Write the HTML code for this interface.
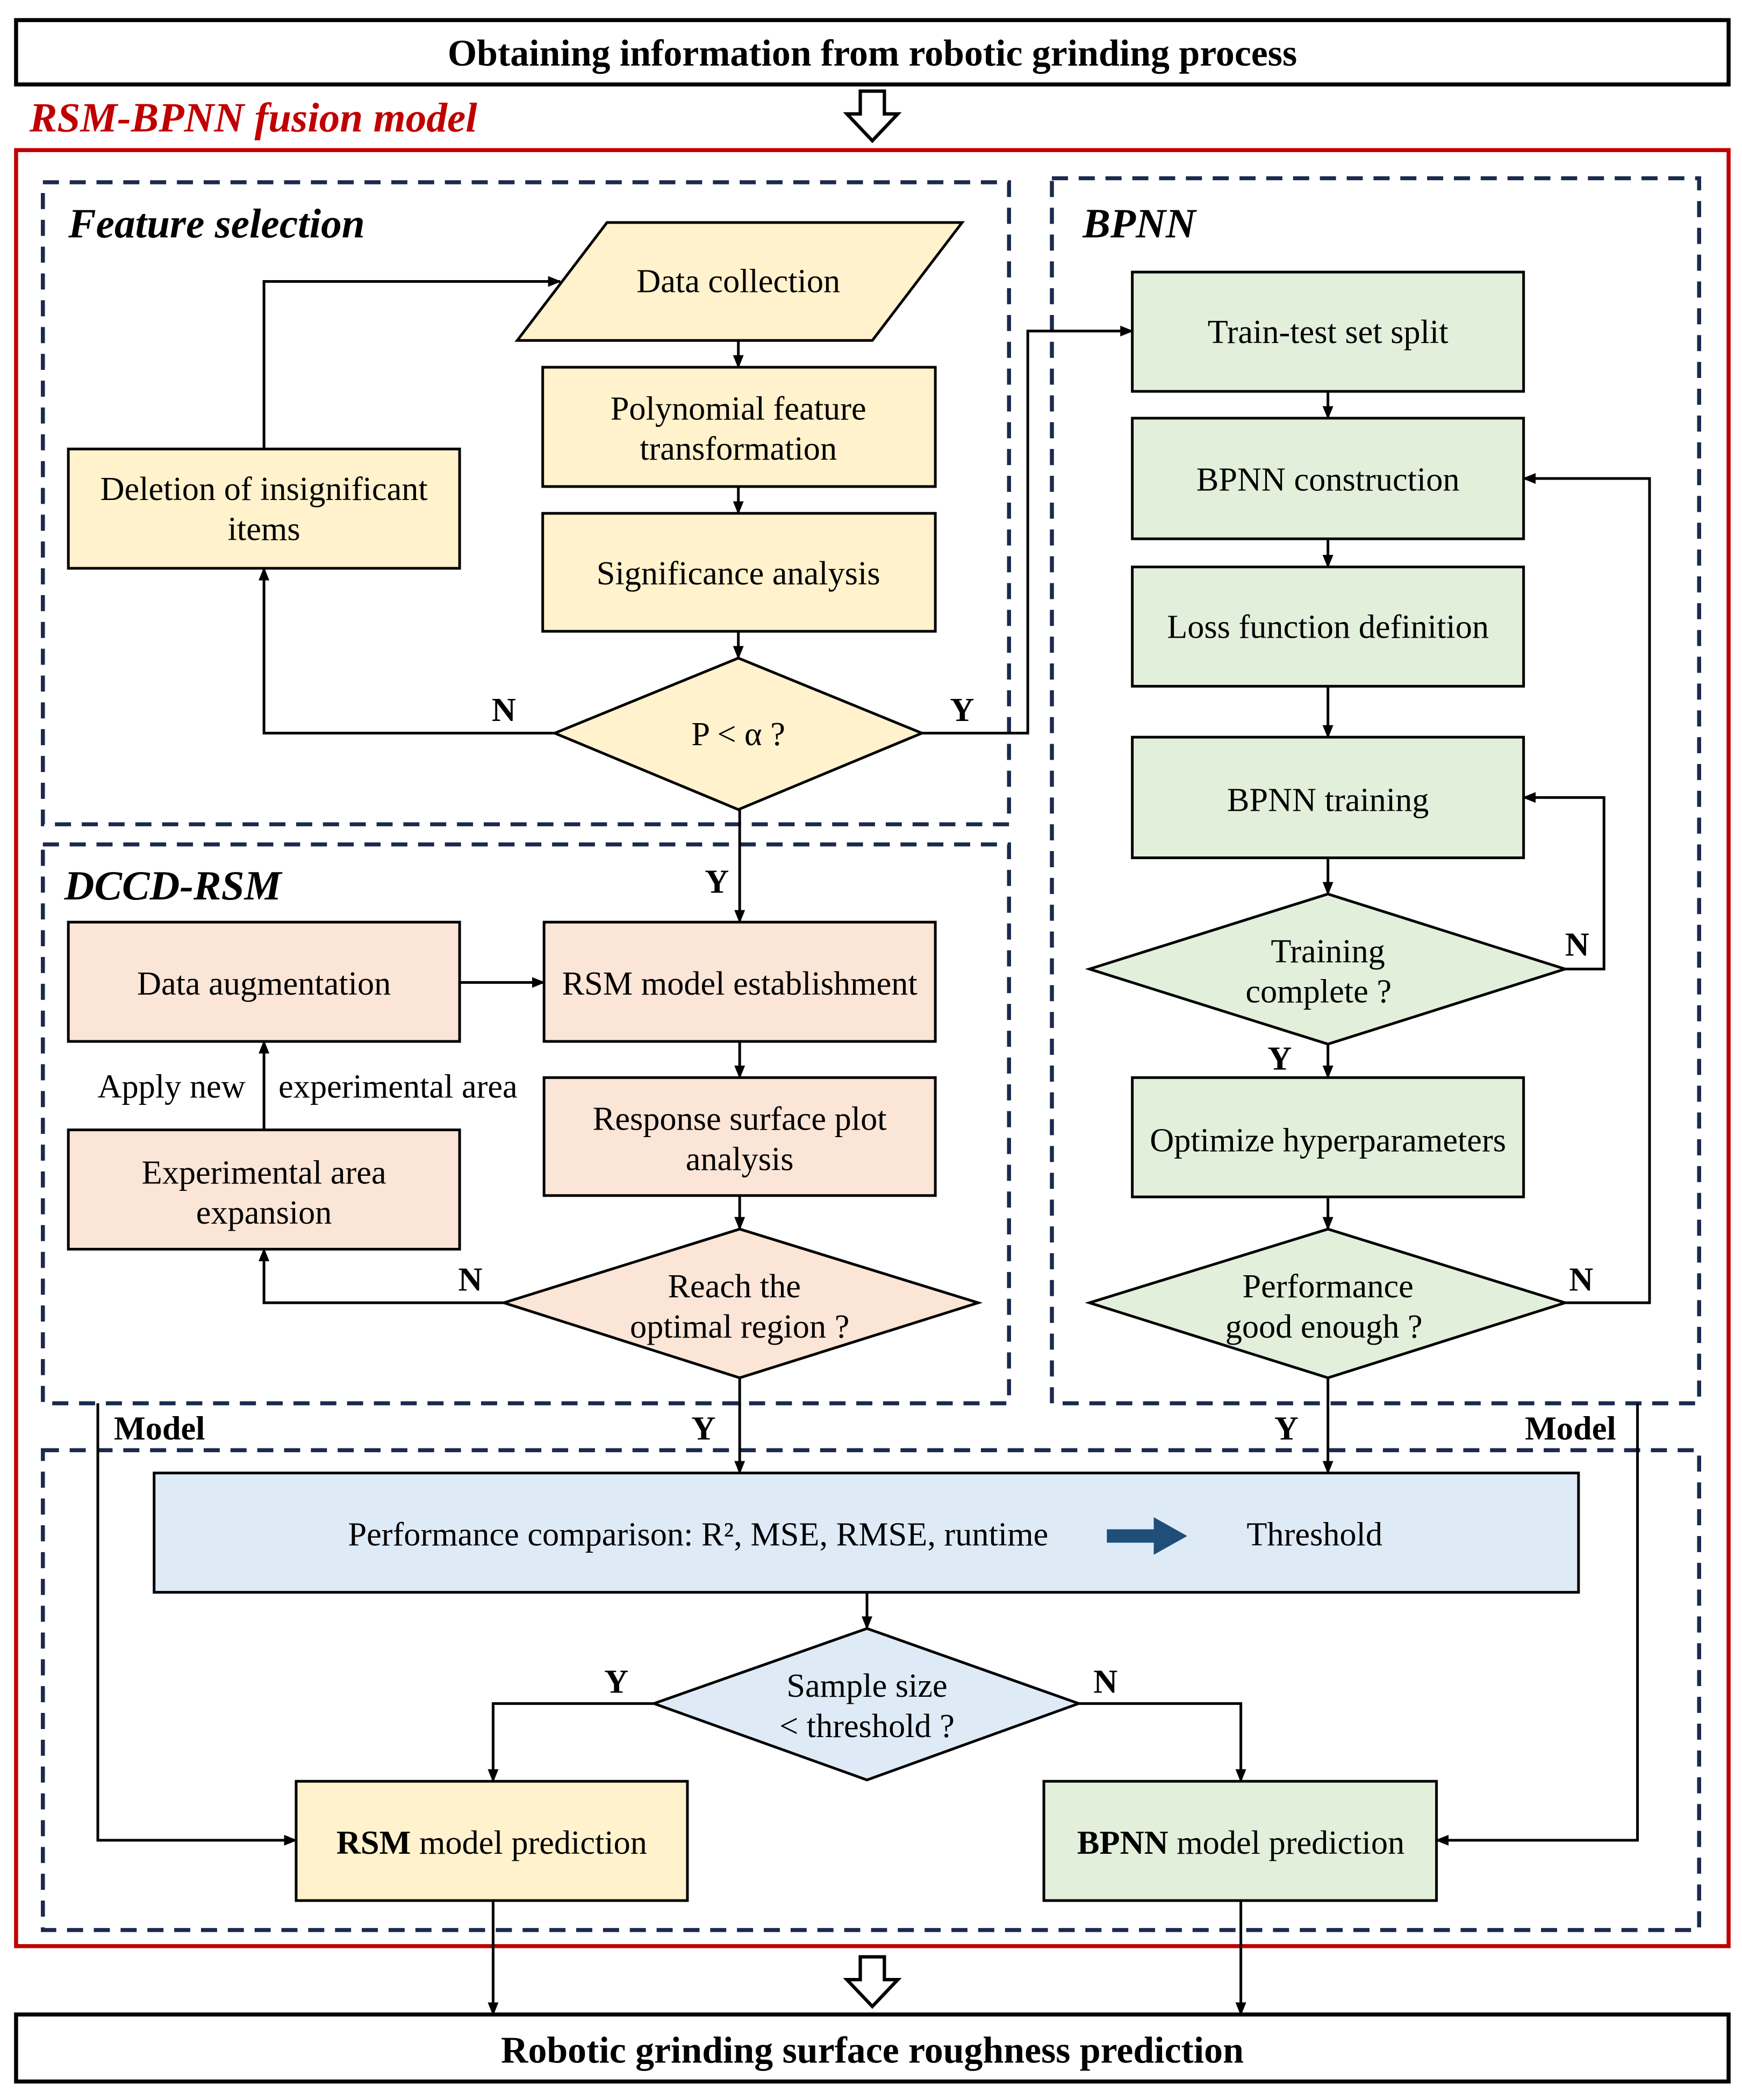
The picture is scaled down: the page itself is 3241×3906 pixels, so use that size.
<!DOCTYPE html>
<html><head><meta charset="utf-8"><style>html,body{margin:0;padding:0;background:#fff}svg{display:block}</style></head>
<body>
<svg xmlns="http://www.w3.org/2000/svg" width="3241" height="3906" viewBox="0 0 1300 1566.8" preserveAspectRatio="none" font-family="'Liberation Serif', serif">
<defs>
<marker id="a" markerWidth="10" markerHeight="10" refX="9" refY="5" orient="auto" markerUnits="userSpaceOnUse"><path d="M0,1 L10,5 L0,9 Z" fill="#000"/></marker>
</defs>
<g font-size="25" text-anchor="middle">
<rect x="12" y="15" width="1278" height="48" fill="#fff" stroke="#000" stroke-width="3"/>
<text x="651" y="49" font-weight="bold" font-size="28">Obtaining information from robotic grinding process</text>
<text x="22" y="98" text-anchor="start" font-size="31" font-weight="bold" font-style="italic" fill="#C00000">RSM-BPNN fusion model</text>
<path d="M642,68 h18 v17 h10 l-19,20 l-19,-20 h10 z" fill="#fff" stroke="#000" stroke-width="2.5"/>
<rect x="12" y="112" width="1278" height="1340" fill="none" stroke="#C00000" stroke-width="3"/>
<g fill="none" stroke="#1B2A4E" stroke-width="3" stroke-dasharray="12,8">
<rect x="32" y="136" width="721" height="479"/>
<rect x="32" y="630" width="721" height="417"/>
<rect x="785" y="133" width="483" height="914"/>
<rect x="32" y="1082" width="1236" height="358"/>
</g>
<g font-size="31" font-weight="bold" font-style="italic" text-anchor="start">
<text x="51" y="177">Feature selection</text>
<text x="48" y="671">DCCD-RSM</text>
<text x="808" y="177">BPNN</text>
</g>
<g stroke="#000" stroke-width="2">
<polygon points="386,254 453,166 718,166 651,254" fill="#FFF2CC"/>
<rect x="405" y="274" width="293" height="89" fill="#FFF2CC"/>
<rect x="405" y="383" width="293" height="88" fill="#FFF2CC"/>
<polygon points="414,547 551,491 688,547 551,604" fill="#FFF2CC"/>
<rect x="51" y="335" width="292" height="89" fill="#FFF2CC"/>
<rect x="51" y="688" width="292" height="89" fill="#FBE5D6"/>
<rect x="406" y="688" width="292" height="89" fill="#FBE5D6"/>
<rect x="406" y="804" width="292" height="88" fill="#FBE5D6"/>
<polygon points="376,972 552,917 730,972 552,1028" fill="#FBE5D6"/>
<rect x="51" y="843" width="292" height="89" fill="#FBE5D6"/>
<rect x="845" y="203" width="292" height="89" fill="#E2EFDA"/>
<rect x="845" y="312" width="292" height="90" fill="#E2EFDA"/>
<rect x="845" y="423" width="292" height="89" fill="#E2EFDA"/>
<rect x="845" y="550" width="292" height="90" fill="#E2EFDA"/>
<polygon points="813,723 991,667 1168,723 991,779" fill="#E2EFDA"/>
<rect x="845" y="804" width="292" height="89" fill="#E2EFDA"/>
<polygon points="813,972 991,917 1168,972 991,1028" fill="#E2EFDA"/>
<rect x="115" y="1099" width="1063" height="89" fill="#DEEBF7"/>
<polygon points="488,1271 647,1215 805,1271 647,1328" fill="#DEEBF7"/>
<rect x="221" y="1329" width="292" height="89" fill="#FFF2CC"/>
<rect x="779" y="1329" width="293" height="89" fill="#E2EFDA"/>
</g>
<g stroke="#000" stroke-width="2" fill="none" marker-end="url(#a)">
<path d="M551,254 V274"/>
<path d="M551,363 V383"/>
<path d="M551,471 V491"/>
<path d="M414,547 H197 V424"/>
<path d="M197,335 V210 H418"/>
<path d="M688,547 H767 V247 H845"/>
<path d="M552,604 V688"/>
<path d="M343,733 H406"/>
<path d="M552,777 V804"/>
<path d="M552,892 V917"/>
<path d="M197,843 V777"/>
<path d="M376,972 H197 V932"/>
<path d="M552,1028 V1099"/>
<path d="M991,292 V312"/>
<path d="M991,402 V423"/>
<path d="M991,512 V550"/>
<path d="M991,640 V667"/>
<path d="M1168,723 H1197 V595 H1137"/>
<path d="M991,779 V804"/>
<path d="M991,893 V917"/>
<path d="M1168,972 H1231 V357 H1137"/>
<path d="M991,1028 V1099"/>
<path d="M647,1188 V1215"/>
<path d="M488,1271 H368 V1329"/>
<path d="M805,1271 H926 V1329"/>
<path d="M73,1047 V1373 H221"/>
<path d="M1222,1047 V1373 H1072"/>
<path d="M368,1418 V1503"/>
<path d="M926,1418 V1503"/>
</g>
<text x="551" y="218">Data collection</text>
<text x="551" y="313">Polynomial feature</text>
<text x="551" y="343">transformation</text>
<text x="551" y="436">Significance analysis</text>
<text x="551" y="556">P &lt; α ?</text>
<text x="197" y="373">Deletion of insignificant</text>
<text x="197" y="403">items</text>
<text x="197" y="742">Data augmentation</text>
<text x="552" y="742">RSM model establishment</text>
<text x="552" y="843">Response surface plot</text>
<text x="552" y="873">analysis</text>
<text x="548" y="968">Reach the</text>
<text x="552" y="998">optimal region ?</text>
<text x="197" y="883">Experimental area</text>
<text x="197" y="913">expansion</text>
<text x="128" y="819">Apply new</text>
<text x="297" y="819">experimental area</text>
<text x="991" y="256">Train-test set split</text>
<text x="991" y="366">BPNN construction</text>
<text x="991" y="476">Loss function definition</text>
<text x="991" y="605">BPNN training</text>
<text x="991" y="718">Training</text>
<text x="984" y="748">complete ?</text>
<text x="991" y="859">Optimize hyperparameters</text>
<text x="991" y="968">Performance</text>
<text x="988" y="998">good enough ?</text>
<text x="521" y="1153">Performance comparison: R², MSE, RMSE, runtime</text>
<path d="M826,1141 h35 v-9 l25,14 l-25,14 v-9 h-35 z" fill="#1F4E79"/>
<text x="981" y="1153">Threshold</text>
<text x="647" y="1266">Sample size</text>
<text x="647" y="1296">&lt; threshold ?</text>
<text x="367" y="1383"><tspan font-weight="bold">RSM</tspan> model prediction</text>
<text x="926" y="1383"><tspan font-weight="bold">BPNN</tspan> model prediction</text>
<g font-weight="bold">
<text x="376" y="538">N</text>
<text x="718" y="538">Y</text>
<text x="535" y="666">Y</text>
<text x="351" y="963">N</text>
<text x="525" y="1074">Y</text>
<text x="1177" y="713">N</text>
<text x="955" y="798">Y</text>
<text x="1180" y="963">N</text>
<text x="960" y="1074">Y</text>
<text x="460" y="1263">Y</text>
<text x="825" y="1263">N</text>
<text x="119" y="1074">Model</text>
<text x="1172" y="1074">Model</text>
</g>
<path d="M642,1460 h18 v17 h10 l-19,20 l-19,-20 h10 z" fill="#fff" stroke="#000" stroke-width="2.5"/>
<rect x="12" y="1503" width="1278" height="50" fill="#fff" stroke="#000" stroke-width="3"/>
<text x="651" y="1539" font-weight="bold" font-size="28">Robotic grinding surface roughness prediction</text>
</g>
</svg>
</body></html>
